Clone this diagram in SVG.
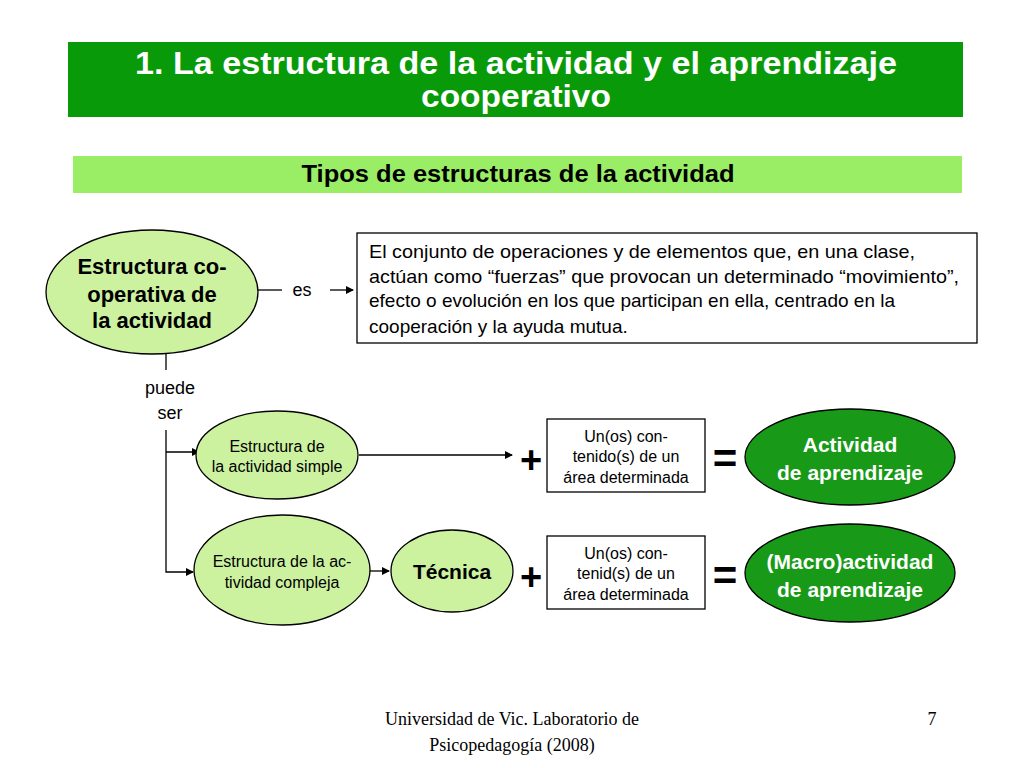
<svg xmlns="http://www.w3.org/2000/svg" width="1024" height="768" viewBox="0 0 1024 768">
<style>
text{font-family:"Liberation Sans",Arial,sans-serif;fill:#000}
.b{font-weight:bold}
.lt{fill:#ccf2a0;stroke:#000;stroke-width:1.3}
.dk{fill:#189a18;stroke:#000;stroke-width:1.3}
.bx{fill:#fff;stroke:#000;stroke-width:1.3}
.c{fill:none;stroke:#000;stroke-width:1.3}
</style>
<defs><marker id="a" markerWidth="8" markerHeight="8" refX="7" refY="4" orient="auto" markerUnits="userSpaceOnUse"><path d="M0,0 L8,4 L0,8 Z" fill="#000"/></marker></defs>
<rect width="1024" height="768" fill="#fff"/>
<g id="title"><rect x="68" y="42" width="895" height="75" fill="#099a09"/>
<text x="516" y="74" text-anchor="middle" font-size="31" class="b" style="fill:#fff" textLength="762" lengthAdjust="spacingAndGlyphs">1. La estructura de la actividad y el aprendizaje</text>
<text x="516" y="107" text-anchor="middle" font-size="31" class="b" style="fill:#fff" textLength="190" lengthAdjust="spacingAndGlyphs">cooperativo</text></g>
<g id="sub"><rect x="73" y="156" width="889" height="37" fill="#99ee66"/>
<text x="518" y="182" text-anchor="middle" font-size="24" class="b" textLength="433" lengthAdjust="spacingAndGlyphs">Tipos de estructuras de la actividad</text></g>
<g id="connectors">
<path class="c" d="M258,290 H282"/>
<path class="c" d="M330,290 H353" marker-end="url(#a)"/>
<path class="c" d="M166,353 V370"/>
<path class="c" d="M166,430 V572 H193" marker-end="url(#a)"/>
<path class="c" d="M166,452 H199" marker-end="url(#a)"/>
<path class="c" d="M359,455 H512" marker-end="url(#a)"/>
<path class="c" d="M370,571 H389" marker-end="url(#a)"/>
</g>
<text x="302" y="296" text-anchor="middle" font-size="18">es</text>
<text x="170" y="394" text-anchor="middle" font-size="18">puede</text>
<text x="170" y="419" text-anchor="middle" font-size="18">ser</text>
<g id="n1"><ellipse class="lt" cx="152" cy="292" rx="106" ry="62"/>
<text x="152" y="274" text-anchor="middle" font-size="22" class="b">Estructura co-</text>
<text x="152" y="302" text-anchor="middle" font-size="22" class="b">operativa de</text>
<text x="152" y="328" text-anchor="middle" font-size="22" class="b">la actividad</text></g>
<g id="def"><rect class="bx" x="357" y="233" width="620" height="110"/>
<g font-size="19"><text x="369" y="258" textLength="546" lengthAdjust="spacingAndGlyphs">El conjunto de operaciones y de elementos que, en una clase,</text>
<text x="369" y="283" textLength="590" lengthAdjust="spacingAndGlyphs">actúan como “fuerzas” que provocan un determinado “movimiento”,</text>
<text x="369" y="307">efecto o evolución en los que participan en ella, centrado en la</text>
<text x="369" y="333">cooperación y la ayuda mutua.</text></g></g>
<g id="n2"><ellipse class="lt" cx="277" cy="455" rx="81" ry="44"/>
<text x="277" y="452" text-anchor="middle" font-size="16">Estructura de</text>
<text x="277" y="472" text-anchor="middle" font-size="16">la actividad simple</text></g>
<g id="n3"><ellipse class="lt" cx="282" cy="570" rx="88" ry="55"/>
<text x="282" y="567" text-anchor="middle" font-size="16">Estructura de la ac-</text>
<text x="282" y="588" text-anchor="middle" font-size="16">tividad compleja</text></g>
<g id="n4"><ellipse class="lt" cx="452" cy="571" rx="61" ry="41"/>
<text x="452" y="579" text-anchor="middle" font-size="21" class="b">Técnica</text></g>
<text x="531" y="473" text-anchor="middle" font-size="38" class="b">+</text>
<text x="531" y="590" text-anchor="middle" font-size="38" class="b">+</text>
<text x="725" y="473" text-anchor="middle" font-size="42" class="b">=</text>
<text x="725" y="590" text-anchor="middle" font-size="42" class="b">=</text>
<g id="b1"><rect class="bx" x="547" y="419" width="158" height="73"/>
<g font-size="16" text-anchor="middle"><text x="626" y="442">Un(os) con-</text><text x="626" y="462">tenido(s) de un</text><text x="626" y="483">área determinada</text></g></g>
<g id="b2"><rect class="bx" x="547" y="536" width="158" height="73"/>
<g font-size="16" text-anchor="middle"><text x="626" y="559">Un(os) con-</text><text x="626" y="579">tenid(s) de un</text><text x="626" y="600">área determinada</text></g></g>
<g id="r1"><ellipse class="dk" cx="850" cy="457" rx="105" ry="48"/>
<text x="850" y="452" text-anchor="middle" font-size="21" class="b" style="fill:#fff">Actividad</text>
<text x="850" y="480" text-anchor="middle" font-size="21" class="b" style="fill:#fff">de aprendizaje</text></g>
<g id="r2"><ellipse class="dk" cx="850" cy="573" rx="105" ry="49"/>
<text x="850" y="569" text-anchor="middle" font-size="21" class="b" style="fill:#fff">(Macro)actividad</text>
<text x="850" y="597" text-anchor="middle" font-size="21" class="b" style="fill:#fff">de aprendizaje</text></g>
<g font-size="18">
<text x="512" y="725" text-anchor="middle" style="font-family:'Liberation Serif',serif">Universidad de Vic. Laboratorio de</text>
<text x="512" y="751" text-anchor="middle" style="font-family:'Liberation Serif',serif">Psicopedagogía (2008)</text>
<text x="932" y="725" text-anchor="middle" style="font-family:'Liberation Serif',serif">7</text></g>
</svg>
